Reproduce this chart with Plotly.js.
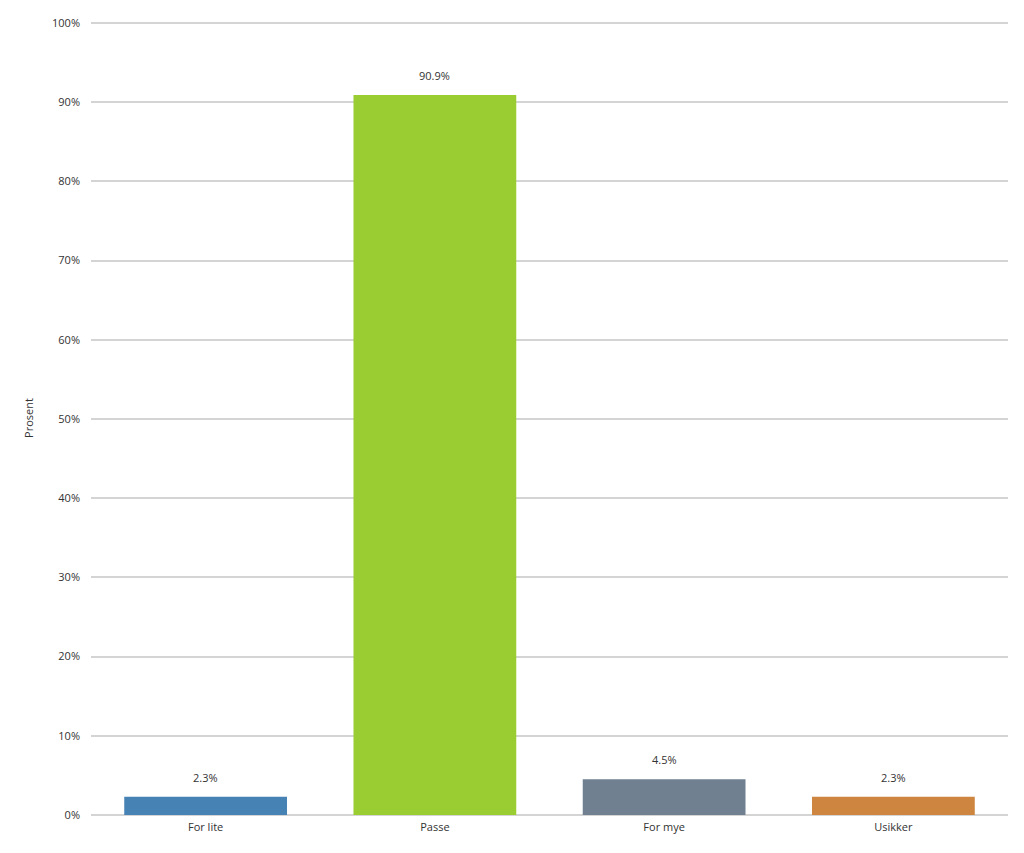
<!DOCTYPE html>
<html>
<head>
<meta charset="utf-8">
<script src="https://cdn.plot.ly/plotly-3.0.1.min.js"></script>
<style>html,body{margin:0;padding:0;background:#fff;}#chart{width:1024px;height:853px;}</style>
</head>
<body>
<div id="chart"></div>
<script>
const categories = ["For lite", "Passe", "For mye", "Usikker"];
const values = [2.3, 90.9, 4.5, 2.3];
const labels = ["2.3%", "90.9%", "4.5%", "2.3%"];
const colors = ["#4682B4", "#9ACD32", "#708090", "#CD853F"];
const yTickVals = [0,10,20,30,40,50,60,70,80,90,100];
const yTickText = yTickVals.map(v => v + "%");

const font = {family: "Open Sans, DejaVu Sans, sans-serif", size: 11, color: "#333"};

const trace = {
  type: "bar",
  x: categories,
  y: values,
  marker: {color: colors, line: {width: 0}},
  hoverinfo: "none"
};

const annotations = categories.map((c, i) => ({
  x: c, y: values[i], text: labels[i], showarrow: false,
  xref: "x", yref: "y", yanchor: "bottom", yshift: 10, font: font
}));

const layout = {
  width: 1024, height: 853,
  margin: {l: 91, r: 16, t: 21, b: 38},
  paper_bgcolor: "#fff", plot_bgcolor: "#fff",
  font: font,
  showlegend: false,
  bargap: 0.29,
  xaxis: {
    type: "category", showgrid: false, zeroline: false, showline: false,
    ticks: "", tickfont: font, ticklabelstandoff: 4
  },
  yaxis: {
    range: [0, 100.25], tickvals: yTickVals, ticktext: yTickText,
    showgrid: true, gridcolor: "#d4d4d4", gridwidth: 2,
    zeroline: true, zerolinecolor: "#d4d4d4", zerolinewidth: 2,
    showline: false, ticks: "", ticklabelstandoff: 10, tickfont: font,
    title: {text: "Prosent", font: font, standoff: 16}
  },
  annotations: annotations
};

Plotly.newPlot("chart", [trace], layout, {displayModeBar: false, staticPlot: true});
</script>
</body>
</html>
